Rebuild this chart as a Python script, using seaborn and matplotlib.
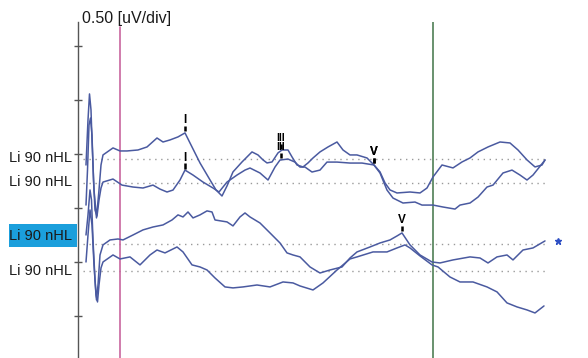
import numpy as np
import pandas as pd
import matplotlib
matplotlib.use("Agg")
import matplotlib.pyplot as plt
from matplotlib.patches import Rectangle
import seaborn as sns

# ---- data -------------------------------------------------------------
# Four ABR sweeps, time in ms, amplitude in uV relative to each baseline
t1 = [-0.04, 0.00, 0.03, 0.06, 0.08, 0.12, 0.17, 0.22, 0.26, 0.30, 0.50, 0.64, 0.78, 1.00,
      1.18, 1.38, 1.50, 1.64, 1.80, 1.94, 2.04, 2.24, 2.44, 2.56, 2.68, 2.78, 2.90, 3.08,
      3.28, 3.40, 3.50, 3.58, 3.68, 3.80, 3.88, 4.00, 4.08, 4.18, 4.30, 4.40, 4.50, 4.64,
      4.80, 4.98, 5.10, 5.24, 5.38, 5.58, 5.72, 5.84, 5.94, 6.04, 6.18, 6.44, 6.64, 6.78,
      6.90, 7.08, 7.30, 7.48, 7.64, 7.80, 8.00, 8.24, 8.44, 8.60, 8.78, 8.94, 9.08, 9.14]
a1 = [-0.056, 0.361, 0.602, 0.454, 0.176, -0.287, -0.546, -0.287, -0.056, 0.037, 0.102,
      0.074, 0.074, 0.083, 0.111, 0.194, 0.157, 0.176, 0.204, 0.241, 0.148, -0.037, -0.194,
      -0.287, -0.343, -0.250, -0.120, -0.028, 0.065, 0.037, -0.009, -0.037, -0.028, 0.056,
      0.083, 0.083, 0.019, -0.056, -0.074, -0.037, 0.009, 0.065, 0.111, 0.157, 0.083, 0.037,
      0.037, 0.009, -0.056, -0.120, -0.222, -0.287, -0.315, -0.306, -0.315, -0.269, -0.167,
      -0.056, -0.083, -0.028, 0.009, 0.065, 0.111, 0.157, 0.148, 0.083, -0.009, -0.074,
      -0.056, -0.009]

t2 = [-0.04, -0.01, 0.02, 0.05, 0.08, 0.11, 0.14, 0.18, 0.22, 0.26, 0.30, 0.50, 0.68, 0.90,
      1.10, 1.30, 1.44, 1.58, 1.70, 1.84, 1.94, 2.10, 2.30, 2.50, 2.62, 2.78, 2.98, 3.14,
      3.24, 3.44, 3.60, 3.74, 3.84, 4.00, 4.14, 4.24, 4.34, 4.48, 4.64, 4.78, 4.98, 5.24,
      5.48, 5.72, 5.84, 5.98, 6.10, 6.30, 6.54, 6.68, 6.90, 7.10, 7.34, 7.44, 7.64, 7.80,
      7.98, 8.10, 8.30, 8.48, 8.64, 8.78, 8.90, 9.14]
a2 = [-0.204, 0.120, 0.537, 0.602, 0.444, 0.028, -0.250, -0.306, -0.157, -0.046, 0.009,
      0.037, -0.019, -0.037, -0.046, -0.019, -0.056, -0.083, -0.065, 0.028, 0.120, 0.074,
      0.009, -0.046, -0.083, 0.009, 0.074, 0.120, 0.139, 0.093, 0.028, 0.148, 0.213, 0.222,
      0.194, 0.148, 0.148, 0.102, 0.120, 0.194, 0.194, 0.185, 0.185, 0.167, 0.093, -0.065,
      -0.139, -0.185, -0.176, -0.204, -0.204, -0.222, -0.241, -0.204, -0.185, -0.130,
      -0.037, -0.019, 0.093, 0.120, 0.074, 0.028, 0.074, 0.213]

t3 = [-0.04, 0.00, 0.04, 0.07, 0.10, 0.14, 0.17, 0.20, 0.24, 0.30, 0.44, 0.60, 0.70, 0.90,
      1.10, 1.30, 1.50, 1.68, 1.80, 1.90, 2.00, 2.10, 2.24, 2.38, 2.48, 2.54, 2.78, 2.90,
      3.04, 3.14, 3.24, 3.44, 3.64, 3.84, 3.98, 4.10, 4.24, 4.44, 4.64, 4.84, 5.08, 5.24,
      5.38, 5.64, 5.84, 6.04, 6.18, 6.28, 6.44, 6.64, 6.88, 7.04, 7.30, 7.64, 7.84, 8.00,
      8.18, 8.38, 8.50, 8.70, 8.90, 9.14]
a3 = [0.083, 0.269, 0.500, 0.407, 0.037, -0.333, -0.519, -0.380, -0.102, -0.009, 0.037,
      0.046, 0.037, 0.083, 0.130, 0.157, 0.176, 0.222, 0.269, 0.250, 0.296, 0.241, 0.269,
      0.306, 0.296, 0.222, 0.204, 0.167, 0.250, 0.287, 0.250, 0.194, 0.102, 0.009, -0.083,
      -0.102, -0.120, -0.213, -0.269, -0.241, -0.213, -0.130, -0.074, -0.028, 0.009, 0.037,
      0.074, 0.102, -0.009, -0.102, -0.167, -0.176, -0.148, -0.120, -0.130, -0.176, -0.120,
      -0.102, -0.148, -0.056, -0.037, 0.028]

t4 = [-0.04, 0.00, 0.04, 0.08, 0.12, 0.16, 0.19, 0.22, 0.26, 0.30, 0.50, 0.64, 0.84, 1.04,
      1.24, 1.38, 1.54, 1.78, 1.90, 2.08, 2.24, 2.38, 2.54, 2.74, 2.90, 3.10, 3.38, 3.64,
      3.90, 4.10, 4.24, 4.50, 4.70, 4.98, 5.24, 5.38, 5.70, 5.98, 6.18, 6.34, 6.44, 6.64,
      6.88, 7.00, 7.24, 7.44, 7.70, 7.98, 8.18, 8.38, 8.58, 8.78, 8.94, 9.12]
a4 = [0.083, 0.333, 0.565, 0.426, 0.056, -0.222, -0.287, -0.130, 0.028, 0.083, 0.148,
      0.111, 0.130, 0.056, 0.148, 0.194, 0.167, 0.222, 0.176, 0.056, 0.037, 0.009, -0.065,
      -0.148, -0.157, -0.148, -0.130, -0.148, -0.102, -0.111, -0.139, -0.176, -0.111, 0.009,
      0.111, 0.130, 0.176, 0.176, 0.213, 0.241, 0.213, 0.139, 0.056, 0.037, -0.056, -0.102,
      -0.102, -0.148, -0.194, -0.296, -0.333, -0.361, -0.389, -0.324]

baselines = [1.843, 1.620, 1.056, 0.806]          # uV offset of each sweep
sweep_labels = ["Li 90 nHL", "Li 90 nHL", "Li 90 nHL", "Li 90 nHL"]

# wave markers: sweep index, label, latency (ms)
peak_sweep = [0, 0, 0, 1, 1, 1, 2]
peak_label = ["I", "III", "V", "I", "III", "V", "V"]
peak_time = [1.94, 3.86, 5.72, 1.94, 3.86, 5.72, 6.28]

cursor_a = 0.64     # ms
cursor_b = 6.90     # ms
scale_text = "0.50 [uV/div]"
div_ticks = [0.389, 0.889, 1.389, 1.889, 2.389, 2.889]

# ---- figure -----------------------------------------------------------
sns.set_theme(style="white")
plt.rcParams["font.family"] = ["Liberation Sans", "DejaVu Sans"]

W, H = 588, 358
fig = plt.figure(figsize=(W / 100, H / 100), dpi=100)
ax = fig.add_axes([78 / W, 0, 510 / W, 336 / H])
ax.set_xlim(-0.2, 10.0)
ax.set_ylim(0, 3.111)

trace_color = "#4a5aa0"
times = [t1, t2, t3, t4]
amps = [a1, a2, a3, a4]
frames = []
for i, (t, a) in enumerate(zip(times, amps)):
    frames.append(pd.DataFrame({"time": t, "uV": np.array(a) + baselines[i], "sweep": i}))
df = pd.concat(frames, ignore_index=True)

# dotted baselines
for b in baselines:
    ax.hlines(b, -0.1, 9.14, colors="#9a9a9a", linewidth=1.0, linestyles=(0, (1, 3.3)),
              zorder=1)

# cursors
ax.axvline(cursor_a, ymin=0, ymax=0.985, color="#c8669e", linewidth=1.2, zorder=2)
ax.axvline(cursor_b, ymin=0, ymax=1.0, color="#4f7f55", linewidth=1.2, zorder=2)

for i in range(len(baselines)):
    sns.lineplot(data=df[df["sweep"] == i], x="time", y="uV", sort=False, estimator=None,
                 color=trace_color, linewidth=1.1, ax=ax, zorder=3)

# wave markers
px = 1 / 108.0
for s, lab, tm in zip(peak_sweep, peak_label, peak_time):
    y0 = np.interp(tm, times[s], amps[s]) + baselines[s]
    ax.plot([tm, tm], [y0 + 1.5 * px, y0 + 7 * px], color="black", linewidth=1.8,
            solid_capstyle="butt", zorder=4)
    size = 7.5 if lab == "III" else 8.5
    ax.text(tm, y0 + 9.5 * px, lab, ha="center", va="baseline", fontsize=size,
            fontweight="bold", color="black", zorder=4)

# star marker at the end of the selected sweep
ax.plot([9.4], [1.083], marker="*", color="#2e4fc4", markersize=5, linestyle="none")

# axes styling
ax.set_xlabel("")
ax.set_ylabel("")
ax.set_xticks([])
ax.set_yticks(div_ticks)
ax.set_yticklabels([])
ax.tick_params(axis="y", direction="inout", length=6, width=1, color="#555555", left=True)
for side in ["top", "right", "bottom"]:
    ax.spines[side].set_visible(False)
ax.spines["left"].set_color("#555555")
ax.spines["left"].set_linewidth(1.0)
ax.patch.set_alpha(0)

# sweep labels
label_offsets = [1, 1, 8, 0]
fig.add_artist(Rectangle((9 / W, (H - 247) / H), 68 / W, 23 / H, transform=fig.transFigure,
                         facecolor="#1b9fdc", edgecolor="none", zorder=0))
for b, lab, off in zip(baselines, sweep_labels, label_offsets):
    ax.annotate(lab, xy=(0, b), xycoords=("axes fraction", "data"), xytext=(-6, off),
                textcoords="offset pixels", ha="right", va="center", fontsize=10.5,
                color="#1a1a1a")

fig.text(82 / W, (H - 18) / H, scale_text, ha="left", va="center", fontsize=11.5,
         color="#1a1a1a")

fig.savefig("out.png", dpi=100)
